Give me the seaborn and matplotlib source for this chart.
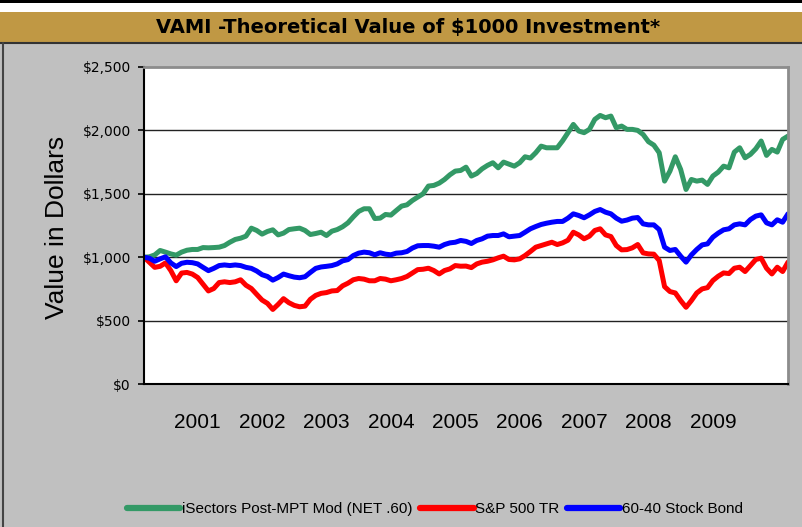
import matplotlib
matplotlib.use('Agg')
import matplotlib.pyplot as plt
import seaborn as sns
import pandas as pd
from matplotlib.patches import Rectangle
from matplotlib.lines import Line2D

# monthly VAMI values (start = $1000)
isectors = [1000, 1003, 1018, 1053, 1040, 1026, 1016, 1040, 1055, 1061,
            1061, 1076, 1074, 1076, 1079, 1092, 1118, 1140, 1150, 1166,
            1229, 1211, 1182, 1203, 1216, 1176, 1190, 1218, 1224, 1229,
            1211, 1179, 1187, 1197, 1171, 1205, 1218, 1240, 1271, 1318,
            1361, 1382, 1382, 1305, 1308, 1337, 1332, 1368, 1403, 1413,
            1447, 1474, 1500, 1561, 1566, 1584, 1613, 1650, 1679, 1684,
            1710, 1640, 1660, 1697, 1724, 1745, 1705, 1750, 1734, 1718,
            1745, 1792, 1782, 1824, 1876, 1863, 1863, 1863, 1918, 1982,
            2047, 1995, 1982, 2008, 2087, 2118, 2100, 2113, 2021, 2034,
            2008, 2008, 2000, 1968, 1911, 1884, 1824, 1600, 1679, 1792,
            1692, 1534, 1613, 1600, 1608, 1574, 1640, 1671, 1718, 1705,
            1829, 1863, 1784, 1811, 1855, 1916, 1803, 1850, 1829, 1929, 1955]

sp500 = [1000, 960, 920, 928, 955, 894, 814, 875, 880, 867,
         840, 787, 734, 753, 800, 806, 800, 806, 822, 779,
         753, 707, 662, 636, 588, 628, 673, 641, 620, 609,
         614, 668, 699, 715, 721, 734, 737, 774, 795, 822,
         832, 827, 814, 814, 832, 827, 814, 822, 832, 848,
         875, 902, 905, 913, 895, 868, 895, 908, 934, 929,
         930, 918, 947, 961, 968, 979, 995, 1008, 982, 979,
         987, 1013, 1045, 1079, 1092, 1105, 1118, 1100, 1113, 1134,
         1197, 1176, 1145, 1166, 1211, 1224, 1176, 1163, 1092, 1058,
         1060, 1074, 1100, 1034, 1026, 1024, 974, 768, 729, 718,
         658, 605, 658, 718, 750, 760, 816, 850, 876, 871,
         913, 921, 887, 934, 982, 992, 913, 868, 921, 887, 961]

stock_bond = [1000, 992, 968, 987, 1003, 955, 926, 952, 960, 957,
              947, 920, 894, 912, 934, 939, 934, 939, 934, 920,
              912, 891, 862, 848, 819, 840, 867, 854, 843, 838,
              846, 880, 912, 923, 928, 934, 947, 971, 981, 1013,
              1032, 1040, 1035, 1019, 1035, 1024, 1019, 1032, 1035, 1045,
              1072, 1090, 1092, 1092, 1087, 1079, 1100, 1113, 1118, 1132,
              1125, 1108, 1132, 1145, 1166, 1171, 1171, 1184, 1161, 1166,
              1171, 1197, 1224, 1242, 1258, 1268, 1276, 1282, 1282, 1308,
              1342, 1329, 1311, 1334, 1361, 1376, 1355, 1342, 1308, 1284,
              1293, 1308, 1313, 1263, 1255, 1255, 1218, 1079, 1053, 1061,
              1008, 961, 1018, 1061, 1097, 1105, 1158, 1190, 1216, 1224,
              1255, 1263, 1255, 1297, 1324, 1334, 1271, 1255, 1295, 1276, 1342]

series_names = ['iSectors Post-MPT Mod (NET .60)', 'S&P 500 TR', '60-40 Stock Bond']
colors = ['#339966', '#FF0000', '#0000FF']
year_labels = ['2001', '2002', '2003', '2004', '2005', '2006', '2007', '2008', '2009']
y_ticks = [0, 500, 1000, 1500, 2000, 2500]

frames = []
for name, vals in zip(series_names, [isectors, sp500, stock_bond]):
    frames.append(pd.DataFrame({'month': range(len(vals)), 'value': vals, 'series': name}))
df = pd.concat(frames, ignore_index=True)

sns.set_style('white')
plt.rcParams['font.family'] = ['DejaVu Sans']
plt.rcParams['text.color'] = 'black'
plt.rcParams['xtick.color'] = 'black'
plt.rcParams['ytick.color'] = 'black'
plt.rcParams['axes.labelcolor'] = 'black'

fig = plt.figure(figsize=(8.03, 5.27), dpi=100)
fig.patch.set_facecolor('white')

H = 527.0
W = 803.0
# black strip, gold title bar, gray panel
fig.patches.append(Rectangle((0, 1 - 3 / H), 1, 3 / H, transform=fig.transFigure,
                             facecolor='black', edgecolor='none', zorder=-5))
fig.patches.append(Rectangle((0, 1 - 42 / H), 1, 30 / H, transform=fig.transFigure,
                             facecolor='#C09844', edgecolor='none', zorder=-5))
fig.patches.append(Rectangle((0, 0), 1, 1 - 43 / H, transform=fig.transFigure,
                             facecolor='#C0C0C0', edgecolor='none', zorder=-5))
fig.lines.append(Line2D([0, 1], [1 - 42.5 / H] * 2, transform=fig.transFigure,
                        color='#333333', lw=1.5, zorder=-4))
fig.lines.append(Line2D([3.5 / W] * 2, [0, 1 - 43 / H], transform=fig.transFigure,
                        color='#444444', lw=1.5, zorder=-4))

fig.text(408 / W, 1 - 27 / H, 'VAMI -Theoretical Value of $1000 Investment*',
         ha='center', va='center', fontsize=14, fontweight='bold', color='black')

ax = fig.add_axes([144 / W, 1 - 384 / H, 644 / W, 317 / H])
ax.set_zorder(2)
ax.set_facecolor('white')

sns.lineplot(data=df, x='month', y='value', hue='series', hue_order=series_names,
             palette=colors, linewidth=3.6, legend=False, ax=ax)

n = len(isectors)
ax.set_xlim(0, n - 1)
ax.set_ylim(0, 2500)
ax.set_yticks(y_ticks)
ax.set_yticklabels(['${:,}'.format(v) for v in y_ticks])
ax.set_xticks([10 + 12 * i for i in range(len(year_labels))])
ax.set_xticklabels(year_labels, fontfamily='Liberation Sans', fontsize=15)
ax.tick_params(axis='x', length=0, pad=21)
ax.tick_params(axis='y', length=4, width=1.2, color='black', pad=5.5, labelsize=10,
               left=True)
ax.set_xlabel('')
ax.set_ylabel('')

for yv in y_ticks[1:-1]:
    ax.axhline(yv, color='#222222', lw=1, zorder=0)

for side in ['left', 'bottom']:
    ax.spines[side].set_color('black')
    ax.spines[side].set_linewidth(1.5)
for side in ['top', 'right']:
    ax.spines[side].set_color('#8c8c8c')
    ax.spines[side].set_linewidth(2)

fig.text(57 / W, 1 - 227 / H, 'Value in Dollars', rotation=90, ha='center', va='center',
         fontsize=19, fontfamily='Liberation Sans')

handles = [Line2D([], [], color=c, lw=4.5) for c in colors]
fig.legend(handles, series_names, loc='center', bbox_to_anchor=(435 / W, 1 - 509 / H),
           ncol=3, frameon=False, handlelength=3.5, handletextpad=0.1,
           columnspacing=0.5, prop={'family': 'Liberation Sans', 'size': 11})

fig.savefig('out.png', dpi=100, facecolor=fig.get_facecolor())
